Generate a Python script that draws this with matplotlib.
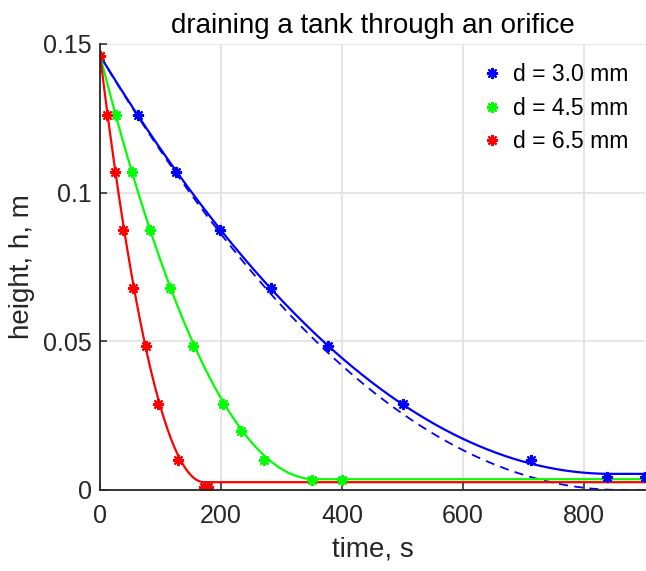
import matplotlib
matplotlib.use("Agg")
import matplotlib.pyplot as plt
import numpy as np
from matplotlib.ticker import FuncFormatter

plt.rcParams['font.family'] = ['Liberation Sans', 'DejaVu Sans']

labels = ["d = 3.0 mm", "d = 4.5 mm", "d = 6.5 mm"]
colors = ["#0000ff", "#00ff00", "#ff0000"]

t_30 = [0, 62, 126, 198, 282, 377, 500, 712, 838, 900]
h_30 = [0.146, 0.126, 0.107, 0.0875, 0.068, 0.0485, 0.029, 0.010, 0.0045, 0.0045]

t_45 = [0, 26, 53, 83, 115, 154, 203, 232, 271, 350, 400]
h_45 = [0.146, 0.126, 0.107, 0.0875, 0.068, 0.0485, 0.029, 0.0197, 0.010, 0.0034, 0.0034]

t_65 = [0, 11, 24, 38, 55, 75, 96, 129, 172, 178]
h_65 = [0.146, 0.126, 0.107, 0.0875, 0.068, 0.0485, 0.029, 0.010, 0.001, 0.001]

# fitted model: h = hf + (h0-hf)*(1-t/T)^2 until empty time T, then hf
h0 = 0.146
T_fit = [844, 355, 172]
hf_fit = [0.0054, 0.0036, 0.0026]
# ideal (dashed) curve for the 3.0 mm orifice
T_ideal = 860

def model(t, T, hf):
    s = np.clip(1 - t / T, 0, None)
    return hf + (h0 - hf) * s**2

fig = plt.figure(figsize=(6.46, 5.71), dpi=100)
ax = fig.add_axes([0.155, 0.142, 0.843, 0.781])

tt = np.linspace(0, 900, 901)
ax.plot(tt, model(tt, T_ideal, 0.0), '--', color=colors[0], lw=1.3, dashes=(5, 3.5))

data = [(t_30, h_30), (t_45, h_45), (t_65, h_65)]
for i in range(3):
    ax.plot(tt, model(tt, T_fit[i], hf_fit[i]), '-', color=colors[i], lw=1.6)
for i in range(3):
    t, h = data[i]
    ax.plot(t, h, linestyle='none', marker=(8, 2, 0), markersize=8,
            markeredgewidth=1.5, color=colors[i], label=labels[i])

ax.set_xlim(0, 900)
ax.set_ylim(0, 0.15)
ax.set_xticks([0, 200, 400, 600, 800])
ax.set_yticks([0, 0.05, 0.1, 0.15])
ax.yaxis.set_major_formatter(FuncFormatter(lambda v, p: "%g" % v))
ax.grid(True, color="#e3e3e3", lw=1.3)
ax.set_axisbelow(True)
for s in ['top', 'right']:
    ax.spines[s].set_visible(False)
for s in ['left', 'bottom']:
    ax.spines[s].set_color("#262626")
    ax.spines[s].set_linewidth(1.3)
ax.tick_params(direction='in', length=5, width=1.1, colors="#262626",
               labelsize=18)
ax.tick_params(axis='x', pad=10)
ax.tick_params(axis='y', pad=6)

ax.set_xlabel("time, s", fontsize=20, color="#262626", labelpad=6)
ax.set_ylabel("height, h, m", fontsize=20, color="#262626", labelpad=6)
ax.set_title("draining a tank through an orifice", fontsize=20, pad=8)

leg = ax.legend(loc='upper right', frameon=False, fontsize=16.5,
                handlelength=0.8, handletextpad=0.5, labelspacing=0.45,
                borderaxespad=0.45, bbox_to_anchor=(1.005, 1.0))

fig.savefig("out.png", dpi=100)
